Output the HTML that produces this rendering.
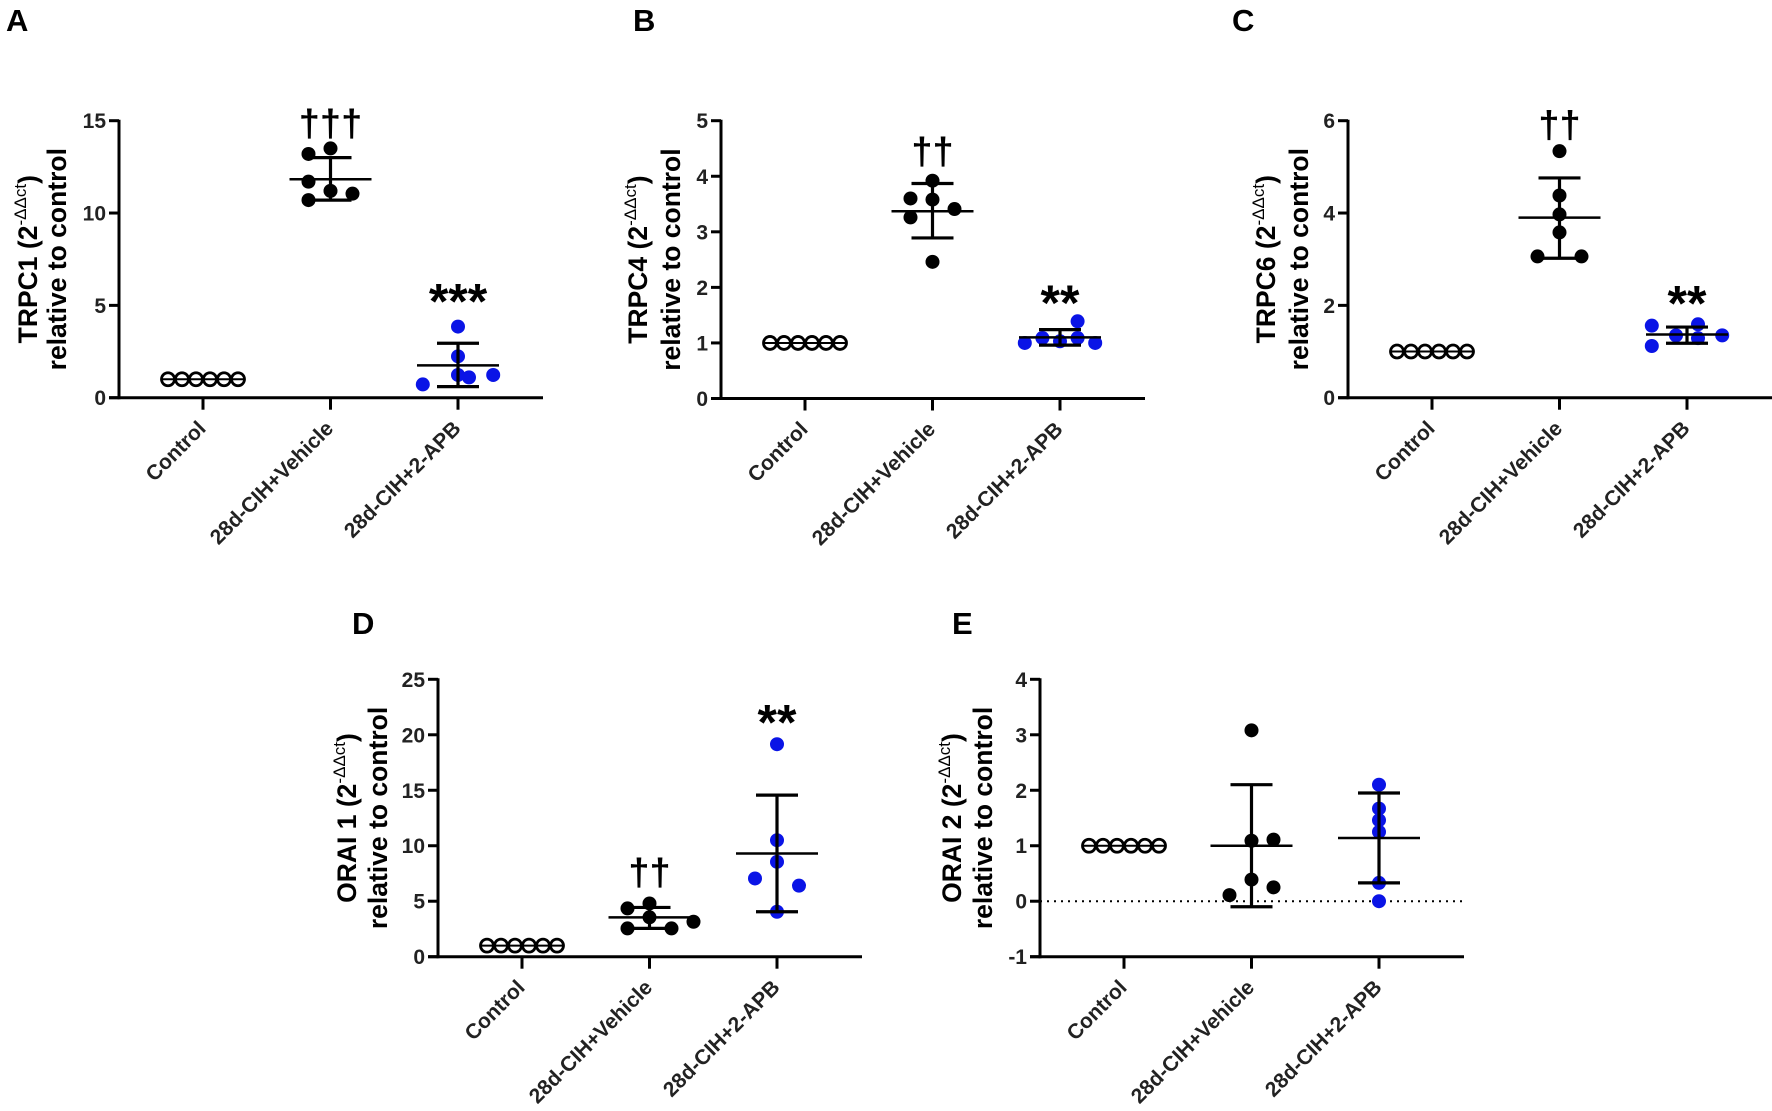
<!DOCTYPE html>
<html><head><meta charset="utf-8">
<style>
html,body{margin:0;padding:0;background:#fff;}
svg{display:block;font-family:"Liberation Sans",Arial,sans-serif;}
</style></head>
<body>
<svg id="fig" width="1772" height="1111" viewBox="0 0 1772 1111" xmlns="http://www.w3.org/2000/svg"></svg>
<script>
// ---- data ----
const categories = ["Control", "28d-CIH+Vehicle", "28d-CIH+2-APB"];
const panelIds = ["A", "B", "C", "D", "E"];
const panelTitles = ["TRPC1", "TRPC4", "TRPC6", "ORAI 1", "ORAI 2"];
const yTicksA = [0, 5, 10, 15];
const yTicksB = [0, 1, 2, 3, 4, 5];
const yTicksC = [0, 2, 4, 6];
const yTicksD = [0, 5, 10, 15, 20, 25];
const yTicksE = [-1, 0, 1, 2, 3, 4];
const controlValues = [1, 1, 1, 1, 1, 1];
const controlJitter = [-2.5, -1.5, -0.5, 0.5, 1.5, 2.5];
const vehicleA = [13.2, 13.5, 11.7, 11.2, 11.05, 10.7];
const vehicleJitterA = [-1, 0, -1, 0, 1, -1];
const apbA = [0.72, 3.85, 2.24, 1.23, 1.1, 1.23];
const apbJitterA = [-1.6, 0, 0, 0, 0.5, 1.6];
const meanA = [1, 11.83, 1.75];
const sdHiA = [1, 13.0, 2.95];
const sdLoA = [1, 10.7, 0.6];
const vehicleB = [3.92, 3.6, 3.58, 3.41, 3.26, 2.46];
const vehicleJitterB = [0, -1, 0, 1, -1, 0];
const apbB = [1.0, 1.09, 1.03, 1.39, 1.09, 1.0];
const apbJitterB = [-1.6, -0.8, 0, 0.8, 0.8, 1.6];
const meanB = [1, 3.37, 1.10];
const sdHiB = [1, 3.87, 1.24];
const sdLoB = [1, 2.89, 0.96];
const vehicleC = [5.34, 4.38, 3.97, 3.58, 3.06, 3.06];
const vehicleJitterC = [0, 0, 0, 0, -1, 1];
const apbC = [1.56, 1.12, 1.35, 1.59, 1.29, 1.35];
const apbJitterC = [-1.6, -1.6, -0.5, 0.5, 0.5, 1.6];
const meanC = [1, 3.9, 1.37];
const sdHiC = [1, 4.76, 1.53];
const sdLoC = [1, 3.02, 1.18];
const vehicleD = [4.35, 4.8, 3.55, 2.55, 2.55, 3.15];
const vehicleJitterD = [-1, 0, 0, -1, 1, 2];
const apbD = [19.15, 10.5, 8.55, 7.05, 6.4, 4.05];
const apbJitterD = [0, 0, 0, -1, 1, 0];
const meanD = [1, 3.54, 9.3];
const sdHiD = [1, 4.44, 14.56];
const sdLoD = [1, 2.55, 4.05];
const vehicleE = [3.08, 1.09, 1.11, 0.39, 0.25, 0.11];
const vehicleJitterE = [0, 0, 1, 0, 1, -1];
const apbE = [2.1, 1.67, 1.46, 1.25, 0.33, 0];
const apbJitterE = [0, 0, 0, 0, 0, 0];
const meanE = [1, 1.0, 1.14];
const sdHiE = [1, 2.1, 1.95];
const sdLoE = [1, -0.1, 0.33];
const annotTextVeh = ["†††", "††", "††", "††", ""];
const annotValVeh = [15.1, 4.53, 6.0, 8.0, 0];
const annotTextApb = ["***", "**", "**", "**", ""];
const annotValApb = [5.7, 1.88, 2.24, 21.9, 0];

// ---- layout ----
const NS = "http://www.w3.org/2000/svg";
const svg = document.getElementById("fig");
function mk(tag, attrs, parent) {
  const e = document.createElementNS(NS, tag);
  for (const k in attrs) e.setAttribute(k, attrs[k]);
  (parent || svg).appendChild(e);
  return e;
}
const layouts = [
  {ox:119, top:120.7, bot:397.7, ymin:0, ymax:15, t1:-91, t2:-62, lx:6, ly:31},
  {ox:721, top:120.7, bot:398.5, ymin:0, ymax:5, t1:-83, t2:-50, lx:633, ly:31},
  {ox:1348, top:120.7, bot:397.7, ymin:0, ymax:6, t1:-82, t2:-49, lx:1232, ly:31},
  {ox:438, top:679.3, bot:956.7, ymin:0, ymax:25, t1:-91, t2:-60, lx:352, ly:634},
  {ox:1040, top:679.3, bot:956.7, ymin:-1, ymax:4, t1:-88, t2:-57, lx:952, ly:634}
];
const ticksAll = [yTicksA, yTicksB, yTicksC, yTicksD, yTicksE];
const vehAll = [vehicleA, vehicleB, vehicleC, vehicleD, vehicleE];
const vehJAll = [vehicleJitterA, vehicleJitterB, vehicleJitterC, vehicleJitterD, vehicleJitterE];
const apbAll = [apbA, apbB, apbC, apbD, apbE];
const apbJAll = [apbJitterA, apbJitterB, apbJitterC, apbJitterD, apbJitterE];
const meanAll = [meanA, meanB, meanC, meanD, meanE];
const hiAll = [sdHiA, sdHiB, sdHiC, sdHiD, sdHiE];
const loAll = [sdLoA, sdLoB, sdLoC, sdLoD, sdLoE];

layouts.forEach((L, p) => {
  const g = mk("g", {});
  
  
  const yS = v => L.bot - (v - L.ymin) / (L.ymax - L.ymin) * (L.bot - L.top);
  const xS = i => L.ox + 84 + i * 127.5;
  const jit = 22, cjit = 14;

  const lab = mk("text", {x:L.lx, y:L.ly, "font-size":31, "font-weight":"bold"}, g);
  lab.textContent = panelIds[p];
  
  

  const ya = mk("line", {x1:L.ox, y1:L.top - 1, x2:L.ox, y2:L.bot + 1.5, stroke:"#000", "stroke-width":3}, g);
  
  
  const xa = mk("line", {x1:L.ox - 10, y1:L.bot, x2:L.ox + 424, y2:L.bot, stroke:"#000", "stroke-width":3}, g);
  
  

  ticksAll[p].forEach(t => {
    const yy = yS(t);
    const tl = mk("line", {x1:L.ox - 10, y1:yy, x2:L.ox, y2:yy, stroke:"#000", "stroke-width":3}, g);
    
    
    const tt = mk("text", {x:L.ox - 13, y:yy + 7.5, "font-size":21, "font-weight":"bold", "text-anchor":"end", fill:"#222"}, g);
    tt.textContent = t;
    
    
  });

  if (L.ymin < 0) {
    const dl = mk("line", {x1:L.ox, y1:yS(0), x2:L.ox + 424, y2:yS(0), stroke:"#000", "stroke-width":2, "stroke-dasharray":"2,5"}, g);
    
    
  }

  categories.forEach((c, i) => {
    const x = xS(i);
    const tk = mk("line", {x1:x, y1:L.bot, x2:x, y2:L.bot + 12, stroke:"#000", "stroke-width":3}, g);
    
    
    const tx = mk("text", {x:0, y:0, "font-size":21, "font-weight":"bold", "text-anchor":"end", fill:"#222",
      transform:`translate(${x + 4},${L.bot + 32}) rotate(-45)`}, g);
    tx.textContent = c;
    
    
  });

  const midY = (L.top + L.bot) / 2;
  const t1 = mk("text", {x:0, y:0, "font-size":26.5, "font-weight":"bold", "text-anchor":"middle",
    transform:`translate(${L.ox + L.t1 + 9},${midY}) rotate(-90)`}, g);
  
  
  const s1 = mk("tspan", {}, t1); s1.textContent = panelTitles[p] + " (2";
  const s2 = mk("tspan", {"font-size":17, "font-weight":"normal", dy:-11}, t1); s2.textContent = "-ΔΔct";
  const s3 = mk("tspan", {dy:11}, t1); s3.textContent = ")";
  const t2 = mk("text", {x:0, y:0, "font-size":26.5, "font-weight":"bold", "text-anchor":"middle",
    transform:`translate(${L.ox + L.t2 + 9},${midY}) rotate(-90)`}, g);
  t2.textContent = "relative to control";
  
  

  controlValues.forEach((v, k) => {
    const c = mk("circle", {cx:xS(0) + controlJitter[k] * cjit, cy:yS(v), r:6.5, fill:"none", stroke:"#000", "stroke-width":2.8}, g);
    
    
  });
  vehAll[p].forEach((v, k) => {
    const c = mk("circle", {cx:xS(1) + vehJAll[p][k] * jit, cy:yS(v), r:7, fill:"#000"}, g);
    
    
  });
  apbAll[p].forEach((v, k) => {
    const c = mk("circle", {cx:xS(2) + apbJAll[p][k] * jit, cy:yS(v), r:7, fill:"#0a14e6"}, g);
    
    
  });

  [1, 2].forEach(i => {
    const x = xS(i);
    const m = mk("line", {x1:x - 41, y1:yS(meanAll[p][i]), x2:x + 41, y2:yS(meanAll[p][i]), stroke:"#000", "stroke-width":2.5}, g);
    
    
    const sv = mk("line", {x1:x, y1:yS(hiAll[p][i]), x2:x, y2:yS(loAll[p][i]), stroke:"#000", "stroke-width":3.2}, g);
    
    
    [hiAll[p][i], loAll[p][i]].forEach(v => {
      const cap = mk("line", {x1:x - 21, y1:yS(v), x2:x + 21, y2:yS(v), stroke:"#000", "stroke-width":3.2}, g);
      
      
    });
  });
  const cm = mk("line", {x1:xS(0) - 41, y1:yS(meanAll[p][0]), x2:xS(0) + 41, y2:yS(meanAll[p][0]), stroke:"#000", "stroke-width":2}, g);
  
  

  if (annotTextVeh[p]) {
    const a = mk("text", {x:xS(1), y:yS(annotValVeh[p]) + 17, "font-size":38, "font-weight":"bold", "text-anchor":"middle"}, g);
    a.textContent = annotTextVeh[p];
    
    
  }
  if (annotTextApb[p]) {
    const a = mk("text", {x:xS(2), y:yS(annotValApb[p]) + 26, "font-size":50, "font-weight":"bold", "text-anchor":"middle"}, g);
    a.textContent = annotTextApb[p];
    
    
  }
});
</script>
</body></html>
